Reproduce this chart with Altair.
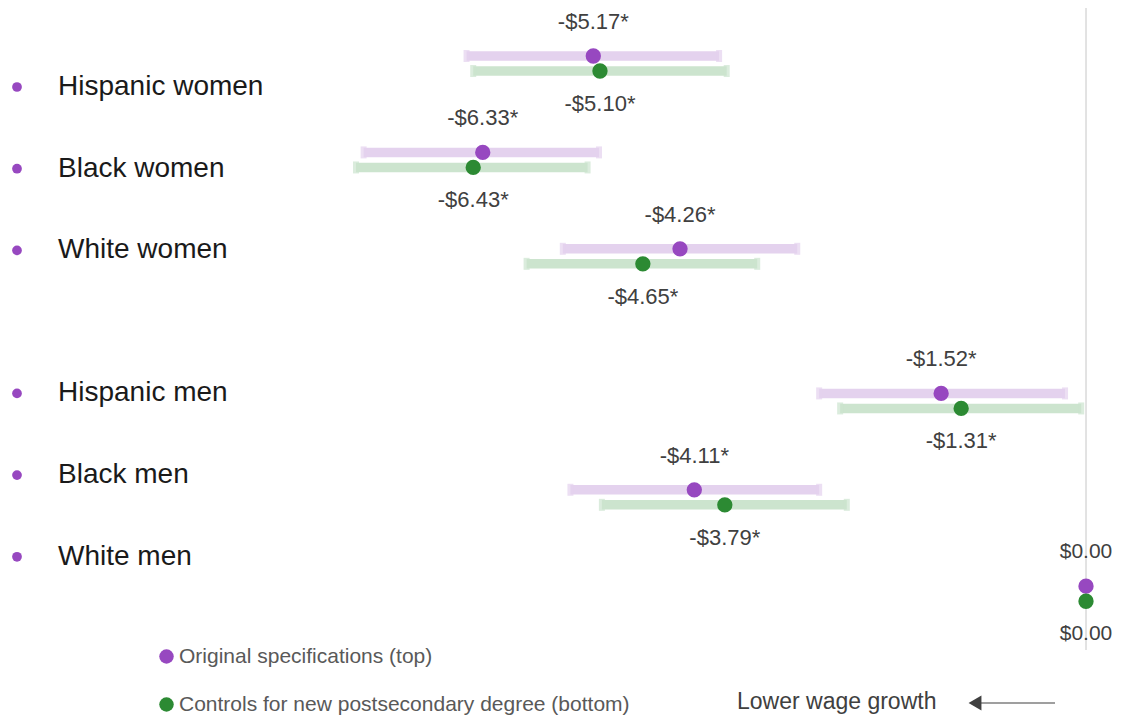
import altair as alt
import pandas as pd

# ---- data ----
categories = ["Hispanic women", "Black women", "White women",
              "Hispanic men", "Black men", "White men"]
row_slot = [0, 1, 2, 3.5, 4.5, 5.5]          # dot rows (gap between women / men)
label_slot = [0, 1, 2, 3.75, 4.75, 5.75]     # category label rows
series_names = ["Original specifications (top)",
                "Controls for new postsecondary degree (bottom)"]

orig_est = [-5.17, -6.33, -4.26, -1.52, -4.11, 0.00]
orig_low = [-6.50, -7.58, -5.49, -2.80, -5.41, 0.00]
orig_high = [-3.85, -5.11, -3.03, -0.22, -2.80, 0.00]

ctrl_est = [-5.10, -6.43, -4.65, -1.31, -3.79, 0.00]
ctrl_low = [-6.43, -7.66, -5.87, -2.58, -5.08, 0.00]
ctrl_high = [-3.77, -5.23, -3.45, -0.05, -2.51, 0.00]

significant = [True, True, True, True, True, False]
annotation = "Lower wage growth"

# ---- styling ----
FONT = "Liberation Sans"
PURPLE, GREEN = "#9748C0", "#2C8A33"
PURPLE_L, GREEN_L = "#E4D2EE", "#CCE4CE"
W, H = 1109, 709
PX_PER_DOLLAR = 95.3
ZERO_PX = 1078
ROW_PX, ROW0 = 96.4, 48
LAB_PX, LAB0 = 81.7, 79

x_scale = alt.Scale(domain=[-ZERO_PX / PX_PER_DOLLAR, (W - ZERO_PX) / PX_PER_DOLLAR], nice=False, zero=False)
y_scale = alt.Scale(domain=[-ROW0 / ROW_PX, (H - ROW0) / ROW_PX], reverse=True, nice=False, zero=False)
ylab_scale = alt.Scale(domain=[-LAB0 / LAB_PX, (H - LAB0) / LAB_PX], reverse=True, nice=False, zero=False)


def fmt(v, sig):
    s = f"${abs(v):.2f}"
    if v < 0:
        s = "-" + s
    return s + ("*" if sig else "")


rows = []
for i, c in enumerate(categories):
    rows.append(dict(cat=c, series=series_names[0], est=orig_est[i], low=orig_low[i],
                     high=orig_high[i], y=row_slot[i], label=fmt(orig_est[i], significant[i]),
                     light="p"))
for i, c in enumerate(categories):
    rows.append(dict(cat=c, series=series_names[1], est=ctrl_est[i], low=ctrl_low[i],
                     high=ctrl_high[i], y=row_slot[i] + 0.156, label=fmt(ctrl_est[i], significant[i]),
                     light="g"))
df = pd.DataFrame(rows)

labels_df = pd.DataFrame({"cat": categories, "slot": label_slot})

base = alt.Chart(df)
X = alt.X("est:Q", scale=x_scale, axis=None)
Y = alt.Y("y:Q", scale=y_scale, axis=None)

zero_line = alt.Chart(pd.DataFrame({"z": [0.0]})).mark_rule(color="#C6C6C6", strokeWidth=1).encode(
    x=alt.X("z:Q", scale=x_scale, axis=None), y=alt.value(0), y2=alt.value(642))

light_scale = alt.Scale(domain=["p", "g"], range=[PURPLE_L, GREEN_L])

bars = base.transform_filter("datum.low < datum.high").mark_rule(strokeWidth=9.5).encode(
    x=alt.X("low:Q", scale=x_scale, axis=None), x2="high:Q", y=Y,
    color=alt.Color("light:N", scale=light_scale, legend=None))

caps_lo = base.transform_filter("datum.low < datum.high").mark_tick(
    orient="vertical", thickness=6, size=12).encode(
    x=alt.X("low:Q", scale=x_scale, axis=None), y=Y,
    color=alt.Color("light:N", scale=light_scale, legend=None))
caps_hi = base.transform_filter("datum.low < datum.high").mark_tick(
    orient="vertical", thickness=6, size=12).encode(
    x=alt.X("high:Q", scale=x_scale, axis=None), y=Y,
    color=alt.Color("light:N", scale=light_scale, legend=None))

points = base.mark_point(filled=True, opacity=1, size=235, shape="circle").encode(
    x=X, y=Y,
    color=alt.Color("series:N",
                    scale=alt.Scale(domain=series_names, range=[PURPLE, GREEN]),
                    legend=alt.Legend(orient="none", legendX=148, legendY=638, title=None,
                                      direction="vertical", symbolType="circle", symbolSize=210,
                                      symbolStrokeWidth=0, symbolOpacity=1,
                                      labelFont=FONT, labelFontSize=21, labelColor="#595959",
                                      labelLimit=0, labelOffset=2, rowPadding=26, padding=0)))

size_cond = alt.condition("datum.est == 0", alt.value(21), alt.value(22))
top_text = base.transform_filter(alt.datum.light == "p").mark_text(
    dy=-34, font=FONT, color="#404040", baseline="middle").encode(
    x=X, y=Y, text="label:N", size=size_cond)
bot_text = base.transform_filter(alt.datum.light == "g").mark_text(
    dy=33, font=FONT, color="#404040", baseline="middle").encode(
    x=X, y=Y, text="label:N", size=size_cond)

YL = alt.Y("slot:Q", scale=ylab_scale, axis=None)
cat_text = alt.Chart(labels_df).mark_text(
    align="left", baseline="middle", font=FONT, fontSize=28, color="#1A1A1A").encode(
    x=alt.value(50), y=YL, text="cat:N")
bullets = alt.Chart(labels_df).mark_point(filled=True, opacity=1, size=95, color=PURPLE).encode(
    x=alt.value(9), y=YL)

ann_df = pd.DataFrame({"t": [annotation]})
ann_text = alt.Chart(ann_df).mark_text(
    align="left", baseline="middle", font=FONT, fontSize=23, color="#404040").encode(
    x=alt.value(729), y=alt.value(694), text="t:N")
arrow_line = alt.Chart(ann_df).mark_rule(color="#7F7F7F", strokeWidth=1.6).encode(
    x=alt.value(968), x2=alt.value(1047), y=alt.value(695))
arrow_head = alt.Chart(ann_df).mark_point(shape="triangle-left", filled=True, opacity=1,
                                          size=220, color="#404040").encode(
    x=alt.value(967), y=alt.value(695))

chart = alt.layer(
    zero_line, bars, caps_lo, caps_hi, points, top_text, bot_text,
    cat_text, bullets, ann_text, arrow_line, arrow_head
).resolve_scale(
    y="independent", color="independent"
).properties(
    width=W, height=H, padding=0,
    autosize=alt.AutoSizeParams(type="none", contains="padding"),
).configure_view(stroke=None)

chart.save("out.html", embed_options={"renderer": "svg", "actions": False})
